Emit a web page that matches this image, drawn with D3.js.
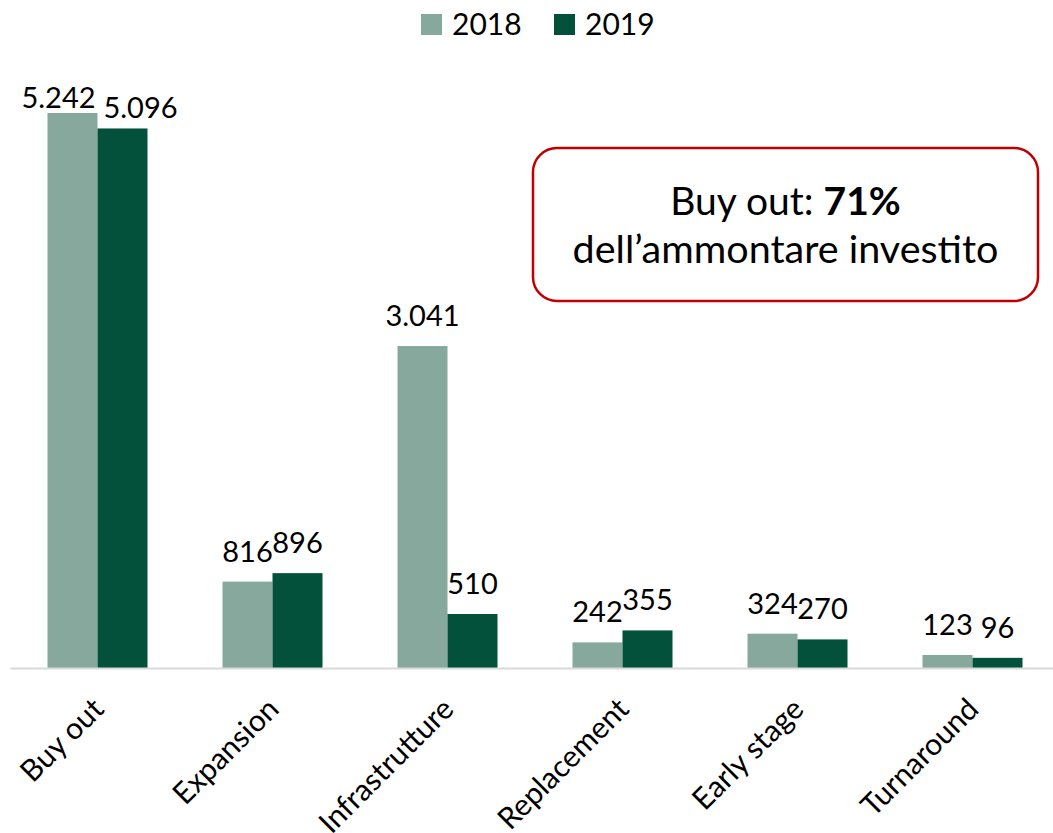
<!DOCTYPE html>
<html>
<head>
<meta charset="utf-8">
<script src="https://cdn.jsdelivr.net/npm/d3@7"></script>
<style>
  body { margin: 0; background: #fff; }
  svg { display: block; font-family: Lato, "Open Sans", sans-serif; }
</style>
</head>
<body>
<svg width="1053" height="833"></svg>
<script>
// data
const categories = ["Buy out", "Expansion", "Infrastrutture", "Replacement", "Early stage", "Turnaround"];
const years = ["2018", "2019"];
const values2018 = [5242, 816, 3041, 242, 324, 123];
const values2019 = [5096, 896, 510, 355, 270, 96];
const colors = ["#87a99d", "#03513b"];

// manual label nudges (like the ones done by hand in the original)
const labelNudge = { "Buy out-2018": [-14, 15], "Buy out-2019": [18, 10] };

const fmt = v => d3.format(",")(v).replace(/,/g, ".");

function draw() {
    const svg = d3.select("svg");

    const baseY = 668;
    const x = d3.scaleBand()
        .domain(categories)
        .range([10, 1060])
        .paddingInner(75 / 175)
        .paddingOuter(75 / 350);

    const xs = d3.scaleBand().domain(years).range([0, x.bandwidth()]);

    const y = d3.scaleLinear()
        .domain([0, 5242])
        .range([baseY, 113]);

    const rows = categories.map((c, i) => ({
        cat: c,
        vals: [{ year: "2018", v: values2018[i] }, { year: "2019", v: values2019[i] }]
    }));

    // bars
    const group = svg.append("g").selectAll("g")
        .data(rows)
        .enter().append("g")
        .attr("transform", d => `translate(${x(d.cat)},0)`);

    group.selectAll("rect")
        .data(d => d.vals)
        .enter().append("rect")
        .attr("x", d => xs(d.year))
        .attr("y", d => y(d.v))
        .attr("width", xs.bandwidth())
        .attr("height", d => baseY - y(d.v))
        .attr("fill", (d, i) => colors[i]);

    // value labels
    group.selectAll("text")
        .data(d => d.vals.map(v => Object.assign({ cat: d.cat }, v)))
        .enter().append("text")
        .attr("x", d => xs(d.year) + xs.bandwidth() / 2 + (labelNudge[d.cat + "-" + d.year] || [0, 0])[0])
        .attr("y", d => y(d.v) - 20 + (labelNudge[d.cat + "-" + d.year] || [0, 0])[1])
        .attr("text-anchor", "middle")
        .attr("font-size", 29)
        .attr("fill", "#000")
        .text(d => fmt(d.v));

    // x axis
    const axis = svg.append("g")
        .attr("transform", `translate(0,${baseY})`)
        .call(d3.axisBottom(x).tickSize(0).tickSizeOuter(0));

    axis.select(".domain")
        .attr("stroke", "#d9d9d9")
        .attr("stroke-width", 2);

    axis.selectAll("text")
        .attr("x", 0)
        .attr("y", 0)
        .attr("dy", null)
        .attr("font-family", "Lato, sans-serif")
        .attr("font-size", 30)
        .attr("fill", "#000")
        .attr("text-anchor", "end")
        .attr("transform", "translate(8,43) rotate(-45)");

    // legend
    const legend = svg.append("g").selectAll("g")
        .data(years)
        .enter().append("g")
        .attr("transform", (d, i) => `translate(${421 + i * 133},0)`);

    legend.append("rect")
        .attr("x", 0).attr("y", 14)
        .attr("width", 21).attr("height", 21)
        .attr("fill", (d, i) => colors[i]);

    legend.append("text")
        .attr("x", 31).attr("y", 35)
        .attr("font-size", 30)
        .text(d => d);

    // callout box
    const box = svg.append("g");
    box.append("rect")
        .attr("x", 533).attr("y", 148)
        .attr("width", 505).attr("height", 153)
        .attr("rx", 24)
        .attr("fill", "#fff")
        .attr("stroke", "#c00000")
        .attr("stroke-width", 2.5);

    const t1 = box.append("text")
        .attr("x", 785.5).attr("y", 215)
        .attr("text-anchor", "middle")
        .attr("font-size", 39);
    t1.append("tspan").text("Buy out: ");
    t1.append("tspan").attr("font-weight", "bold").text("71%");

    box.append("text")
        .attr("x", 785.5).attr("y", 263)
        .attr("text-anchor", "middle")
        .attr("font-size", 39.5)
        .text("dell’ammontare investito");
}

document.addEventListener('DOMContentLoaded', function() {
    draw();
});
</script>
</body>
</html>
